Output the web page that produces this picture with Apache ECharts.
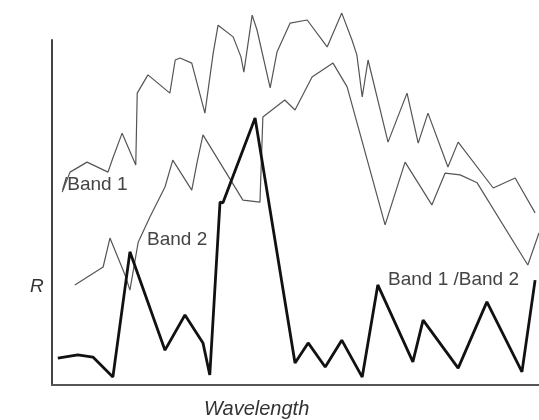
<!DOCTYPE html>
<meta charset="utf-8">
<style>
html, body { margin: 0; padding: 0; background: #fff; }
#container { width: 539px; height: 420px; }
</style>
<body>
<div id="container"></div>
<script src="https://cdn.jsdelivr.net/npm/echarts@6/dist/echarts.min.js"></script>
<script>

// wavelength position (0-100) and reflectance R (arbitrary units, 0-100 = axis height)
var band1X = [2.1, 3.7, 7.2, 11.5, 12.5, 14.4, 17.2, 17.5, 19.7, 24.2, 25.3, 26.3, 28.7, 31.4, 33.1, 34.1, 37.2, 38.8, 39.4, 41.1,
  42.1, 44.8, 46.2, 48.9, 52.4, 56.5, 59.5, 61.6, 62.6, 63.7, 64.9, 69.0, 72.9, 75.2, 77.2, 81.3, 83.4, 90.6, 95.1, 99.2];
var band1Y = [55.9, 61.7, 64.6, 61.7, 65.8, 73.0, 63.8, 84.6, 89.9, 84.6, 94.2, 94.8, 93.3, 78.8, 96.2, 104.3, 100.9, 95.1, 90.7, 107.2,
  102.9, 86.1, 96.5, 104.9, 105.8, 98.0, 107.8, 100.0, 95.7, 83.5, 94.2, 70.4, 84.6, 70.1, 78.8, 63.2, 70.4, 57.1, 60.0, 49.9];

var band2X = [4.7, 10.5, 11.9, 15.0, 16.0, 17.7, 20.1, 23.2, 24.8, 28.7, 29.8, 31.0, 39.2, 42.7, 43.3, 47.8, 49.9, 53.4, 57.7, 60.6,
  68.4, 72.5, 78.0, 80.7, 83.8, 87.3, 97.7, 100];
var band2Y = [29.0, 34.2, 42.6, 31.9, 27.5, 41.4, 48.7, 57.4, 65.2, 56.5, 64.6, 72.5, 53.6, 53.0, 77.7, 82.6, 79.7, 89.3, 93.3, 86.4,
  46.4, 64.6, 52.2, 61.4, 60.9, 58.6, 34.8, 44.1];

var ratioX = [1.2, 5.3, 8.4, 12.5, 16.0, 23.2, 27.3, 31.0, 32.4, 34.5, 35.1, 41.7, 49.9, 52.6, 56.1, 59.5, 63.7, 66.9, 74.1, 76.2,
  83.4, 89.3, 96.5, 99.2];
var ratioY = [7.8, 8.7, 8.1, 2.3, 38.6, 10.1, 20.3, 12.2, 2.9, 53.0, 52.8, 77.4, 6.4, 12.2, 5.2, 13.0, 2.3, 29.0, 6.7, 18.8,
  4.9, 24.1, 3.8, 30.4];

function pairs(xs, ys) {
  var out = [];
  for (var i = 0; i < xs.length; i++) out.push([xs[i], ys[i]]);
  return out;
}

var labelFont = 'Liberation Sans';

var myChart = echarts.init(document.getElementById('container'), null, { renderer: 'canvas' });

var option = {
  animation: false,
  grid: { left: 52, right: 0, top: 40, bottom: 35 },
  xAxis: {
    type: 'value', min: 0, max: 100,
    axisLine: { show: true, lineStyle: { color: '#555', width: 2 } },
    axisTick: { show: false }, axisLabel: { show: false }, splitLine: { show: false }
  },
  yAxis: {
    type: 'value', min: 0, max: 100,
    axisLine: { show: true, lineStyle: { color: '#444', width: 2 } },
    axisTick: { show: false }, axisLabel: { show: false }, splitLine: { show: false }
  },
  series: [
    {
      name: 'Band 1', type: 'line', data: pairs(band1X, band1Y), clip: false,
      showSymbol: false, lineStyle: { color: '#555', width: 1.2 }
    },
    {
      name: 'Band 2', type: 'line', data: pairs(band2X, band2Y), clip: false,
      showSymbol: false, lineStyle: { color: '#555', width: 1.2 }
    },
    {
      name: 'Band 1 / Band 2', type: 'line', data: pairs(ratioX, ratioY), clip: false,
      showSymbol: false, lineStyle: { color: '#111', width: 2.8 }
    }
  ],
  graphic: [
    { type: 'text', left: 62, top: 175, style: { text: '/Band 1', fontSize: 19, fontFamily: labelFont, fill: '#444' } },
    { type: 'text', left: 147, top: 230, style: { text: 'Band 2', fontSize: 19, fontFamily: labelFont, fill: '#444' } },
    { type: 'text', left: 388, top: 270, style: { text: 'Band 1 /Band 2', fontSize: 19, fontFamily: labelFont, fill: '#444' } },
    { type: 'text', left: 204, top: 399, style: { text: 'Wavelength', fontSize: 20, fontStyle: 'italic', fontFamily: labelFont, fill: '#333' } },
    { type: 'text', left: 30, top: 277, style: { text: 'R', fontSize: 19, fontStyle: 'italic', fontFamily: labelFont, fill: '#333' } }
  ]
};

myChart.setOption(option);
</script>
</body>
